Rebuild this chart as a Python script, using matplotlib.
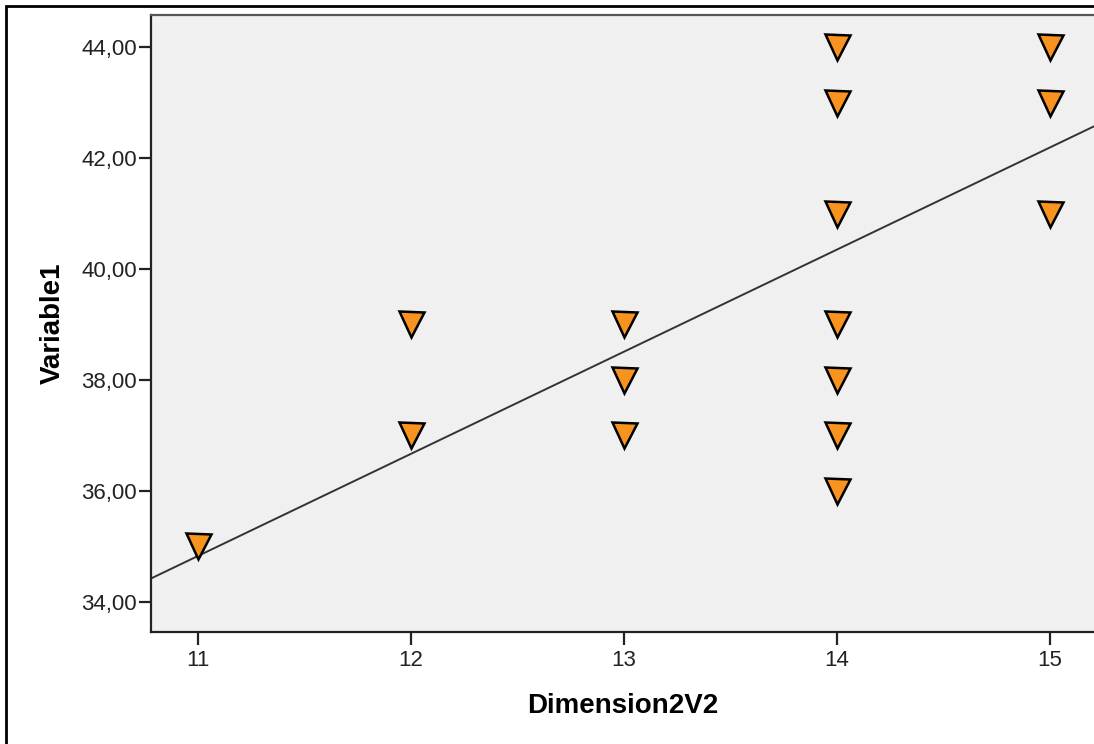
import numpy as np
import matplotlib.pyplot as plt
from matplotlib.patches import Rectangle

plt.rcParams['font.family'] = ['Liberation Sans', 'DejaVu Sans']

# data
dim2v2 = [11, 12, 12, 13, 13, 13, 14, 14, 14, 14, 14, 14, 14, 15, 15, 15]
variable1 = [35, 39, 37, 39, 38, 37, 44, 43, 41, 39, 38, 37, 36, 44, 43, 41]

# fit line: y = a + b*x
fit_a = 14.59
fit_b = 1.84

y_ticks = [34, 36, 38, 40, 42, 44]
x_ticks = [11, 12, 13, 14, 15]

fig = plt.figure(figsize=(10.94, 7.44), dpi=100)
ax = fig.add_axes([151/1094, 1 - 632/744, (1094 - 151)/1094, (632 - 15)/744])
ax.set_facecolor('#f0f0f0')

xlim = (10.779, 15.207)
ax.set_xlim(xlim)
ax.set_ylim(33.459, 44.577)

xs = np.array(xlim)
ax.plot(xs, fit_a + fit_b*xs, color='#333333', lw=1.4, zorder=2)

ax.plot(dim2v2, variable1, linestyle='none', marker='v', markersize=18,
        markerfacecolor='#f7931e', markeredgecolor='black', markeredgewidth=1.8,
        zorder=3)

ax.set_xticks(x_ticks)
ax.set_xticklabels([str(t) for t in x_ticks])
ax.set_yticks(y_ticks)
ax.set_yticklabels([('%.2f' % t).replace('.', ',') for t in y_ticks])
ax.tick_params(axis='both', labelsize=16, length=9, width=1.6, color='#222222',
               labelcolor='#222222')
ax.tick_params(axis='y', pad=1)
ax.tick_params(axis='x', pad=4)

ax.spines['right'].set_visible(False)
ax.spines['left'].set_color('#222222')
ax.spines['bottom'].set_color('#222222')
ax.spines['top'].set_color('#555555')
for s in ['left', 'bottom', 'top']:
    ax.spines[s].set_linewidth(1.6)

ax.set_xlabel('Dimension2V2', fontsize=20, fontweight='bold', labelpad=16)
ax.set_ylabel('Variable1', fontsize=20, fontweight='bold', labelpad=11)

# outer frame
fig.patches.append(Rectangle((6/1094, -0.1), 1.2, 1 - 6/744 + 0.1,
                             transform=fig.transFigure, fill=False,
                             edgecolor='black', linewidth=2))

fig.savefig('out.png', dpi=100)
